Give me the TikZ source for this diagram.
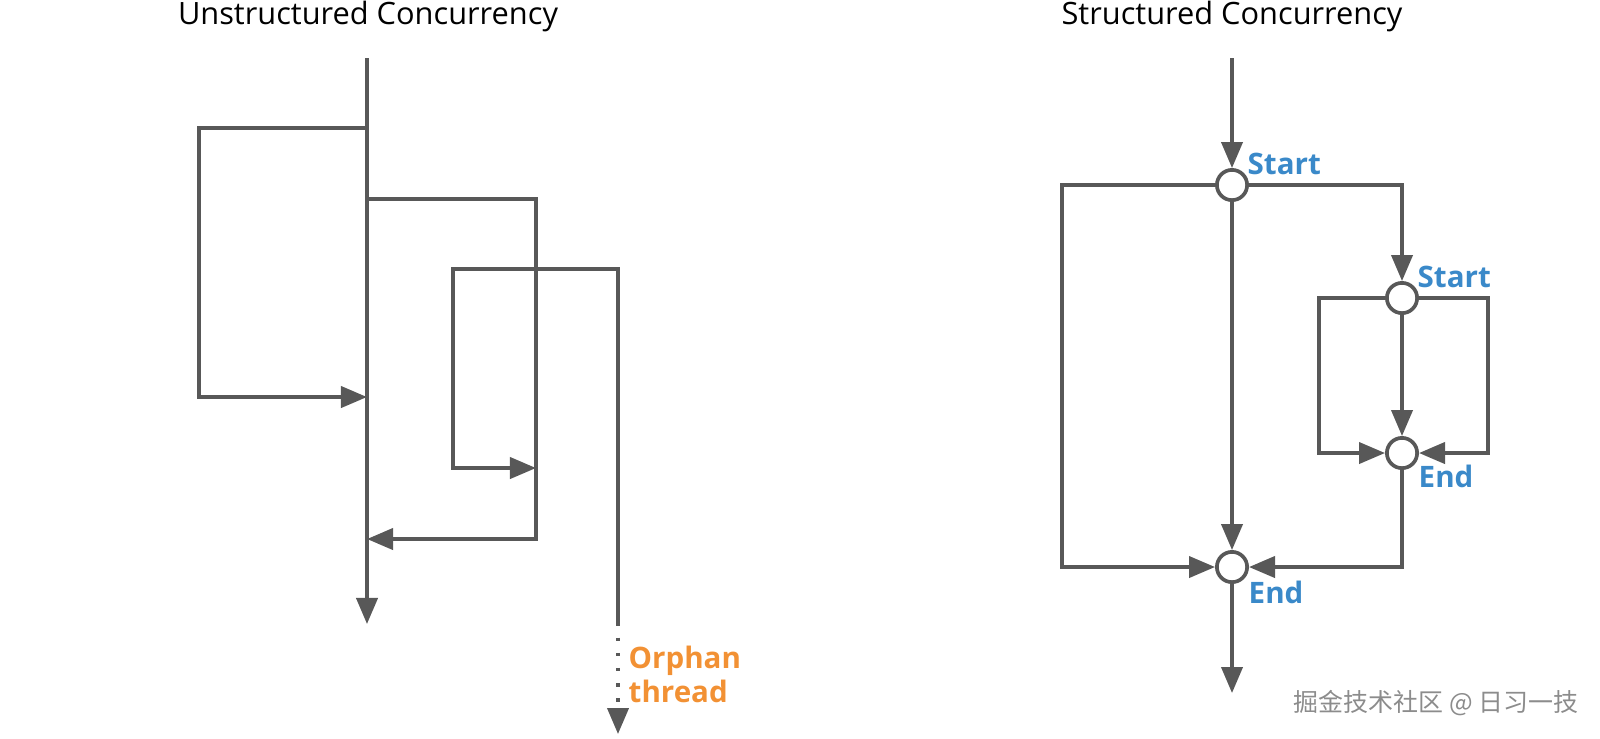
\documentclass[tikz,border=0pt]{standalone}
\usepackage{fontspec}
\setmainfont{Open Sans}
\newfontfamily\cjk{Noto Sans CJK SC}
\usetikzlibrary{arrows.meta}
\definecolor{linegray}{RGB}{88,88,88}
\definecolor{tagblue}{RGB}{58,137,201}
\definecolor{orphanorange}{RGB}{242,145,52}
\definecolor{markgray}{RGB}{140,140,140}
\tikzset{
	flow/.style={draw=linegray, line width=1.05pt},
	arr/.style={flow, -{Triangle[length=7.4pt,width=6pt]}},
	joint/.style={circle, draw=linegray, line width=1.05pt, fill=white, minimum size=8.6pt, inner sep=0pt},
	title/.style={font=\fontsize{8.75}{11}\selectfont, anchor=base, inner sep=0pt},
	tag/.style={font=\fontsize{8.4}{10}\selectfont\bfseries, text=tagblue, anchor=base west, inner sep=0pt}
}
\begin{document}
\begin{tikzpicture}[x=0.01cm, y=-0.01cm]
		\useasboundingbox (0,0) rectangle (1600,738);
		\node[title] (utitle) at (368,24) {Unstructured Concurrency};
		\node[title] (stitle) at (1232,24) {Structured Concurrency};
		\foreach \n/\x/\y in {ua/367/58, uz/367/624, f1/367/128, b1/199/397, j1/367/397,
			f2/367/199, b2/536/539, j2/367/539, f3/536/269, b3/453/468, j3/536/468,
			o1/618/625, o3/618/734}{
			\coordinate (\n) at (\x,\y);
		}
		\draw[arr] (ua) -- (uz);
		\draw[arr] (f1) -| (b1) -- (j1);
		\draw[arr] (f2) -| (b2) -- (j2);
		\draw[arr] (f3) -| (b3) -- (j3);
		\draw[flow] (f3) -| (o1);
		\draw[arr, dash pattern=on 1pt off 3.3pt, dash phase=-3.6pt] (o1) -- (o3);
		\node[font=\fontsize{8.4}{10}\selectfont\bfseries, text=orphanorange, align=left, anchor=base west, inner sep=0pt] (orphan) at (628,702) {Orphan\\[-0.4pt]thread};
		\foreach \n/\x/\y in {ra/1232/58, rz/1232/693, l1/1062/567, c1/1319/453, c2/1488/453}{
			\coordinate (\n) at (\x,\y);
		}
		\foreach \n/\x/\y in {s1/1232/185, s2/1402/298, e2/1402/453, e1/1232/567}{
			\node[joint] (\n) at (\x,\y) {};
		}
		\draw[arr] (ra) -- (s1);
		\draw[arr] (s1) -- (e1);
		\draw[arr] (s1) -| (l1) -- (e1);
		\draw[arr] (s1) -| (s2);
		\draw[arr] (s2) -| (c1) -- (e2);
		\draw[arr] (s2) -| (c2) -- (e2);
		\draw[arr] (s2) -- (e2);
		\draw[arr] (e2) |- (e1);
		\draw[arr] (e1) -- (rz);
		\node[tag] (s1tag) at (1247,174) {Start};
		\node[tag] (s2tag) at (1417,287) {Start};
		\node[tag] (e2tag) at (1418,487) {End};
		\node[tag] (e1tag) at (1248,603) {End};
		\node[font=\cjk\fontsize{7.1}{9}\selectfont, text=markgray, anchor=base west, inner sep=0pt] (mark) at (1293,711) {掘金技术社区 @ 日习一技};
\end{tikzpicture}
\end{document}
